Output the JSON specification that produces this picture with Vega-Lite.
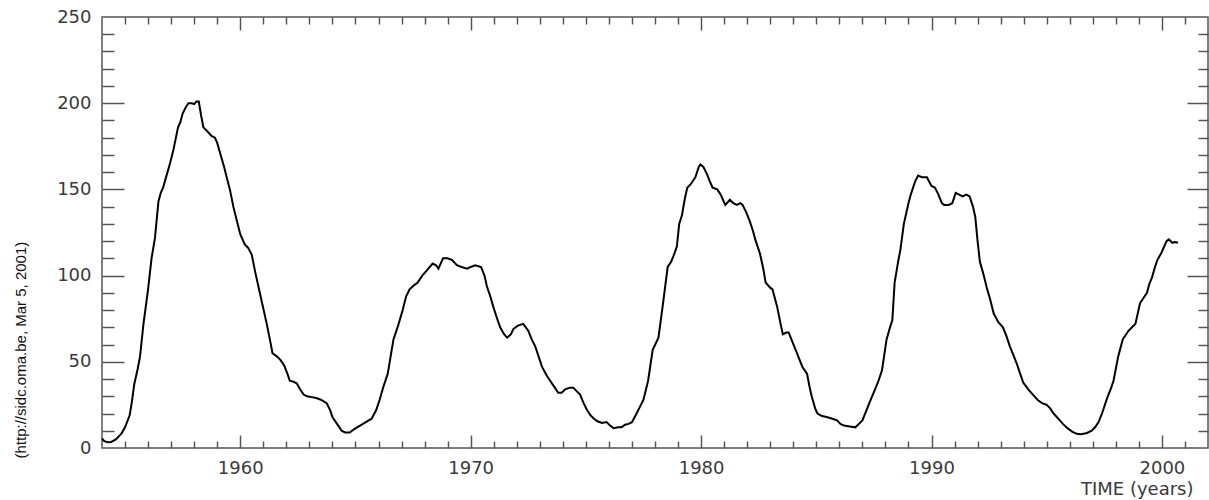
{
  "$schema": "https://vega.github.io/schema/vega-lite/v6.json",
  "autosize": {"type": "none"},
  "padding": {"left": 102, "top": 17, "right": 1, "bottom": 52},
  "width": 1106,
  "height": 431,
  "background": "white",
  "config": {
    "view": {"stroke": "#555555", "strokeWidth": 1.5},
    "axis": {"grid": false, "domain": false, "tickColor": "#555555", "tickWidth": 1.5, "labelFont": "DejaVu Sans", "labelFontSize": 18, "labelColor": "#3a3a3a", "titleFont": "DejaVu Sans", "titleFontWeight": "normal"}
  },
  "data": {
    "values": [
      {"year": 1954.0, "ssn": 5.5}, {"year": 1954.1, "ssn": 4}, {"year": 1954.25, "ssn": 3.4}, {"year": 1954.4, "ssn": 3.5}, {"year": 1954.6, "ssn": 5}, {"year": 1954.85, "ssn": 8.5},
      {"year": 1955.0, "ssn": 12}, {"year": 1955.2, "ssn": 19}, {"year": 1955.3, "ssn": 27}, {"year": 1955.4, "ssn": 37}, {"year": 1955.55, "ssn": 46}, {"year": 1955.65, "ssn": 53}, {"year": 1955.8, "ssn": 72}, {"year": 1955.9, "ssn": 82},
      {"year": 1956.0, "ssn": 92}, {"year": 1956.15, "ssn": 110}, {"year": 1956.3, "ssn": 122}, {"year": 1956.45, "ssn": 143}, {"year": 1956.55, "ssn": 148}, {"year": 1956.65, "ssn": 151}, {"year": 1956.8, "ssn": 158}, {"year": 1956.95, "ssn": 165},
      {"year": 1957.1, "ssn": 173}, {"year": 1957.3, "ssn": 186}, {"year": 1957.4, "ssn": 189}, {"year": 1957.5, "ssn": 194}, {"year": 1957.65, "ssn": 198}, {"year": 1957.75, "ssn": 200}, {"year": 1957.9, "ssn": 200},
      {"year": 1958.0, "ssn": 199.5}, {"year": 1958.1, "ssn": 201}, {"year": 1958.2, "ssn": 201}, {"year": 1958.3, "ssn": 193}, {"year": 1958.4, "ssn": 186}, {"year": 1958.55, "ssn": 184}, {"year": 1958.75, "ssn": 181}, {"year": 1958.9, "ssn": 180},
      {"year": 1959.0, "ssn": 177}, {"year": 1959.15, "ssn": 170}, {"year": 1959.3, "ssn": 163}, {"year": 1959.45, "ssn": 155}, {"year": 1959.55, "ssn": 150}, {"year": 1959.7, "ssn": 140}, {"year": 1959.85, "ssn": 132},
      {"year": 1960.0, "ssn": 124}, {"year": 1960.2, "ssn": 118}, {"year": 1960.35, "ssn": 116}, {"year": 1960.5, "ssn": 112}, {"year": 1960.65, "ssn": 102}, {"year": 1960.8, "ssn": 93}, {"year": 1960.95, "ssn": 84},
      {"year": 1961.15, "ssn": 72}, {"year": 1961.3, "ssn": 62}, {"year": 1961.4, "ssn": 55}, {"year": 1961.6, "ssn": 53}, {"year": 1961.75, "ssn": 51}, {"year": 1961.9, "ssn": 48},
      {"year": 1962.05, "ssn": 43}, {"year": 1962.15, "ssn": 39}, {"year": 1962.3, "ssn": 38.5}, {"year": 1962.45, "ssn": 37.5}, {"year": 1962.6, "ssn": 34}, {"year": 1962.75, "ssn": 31}, {"year": 1962.9, "ssn": 30},
      {"year": 1963.1, "ssn": 29.5}, {"year": 1963.3, "ssn": 29}, {"year": 1963.5, "ssn": 28}, {"year": 1963.75, "ssn": 26}, {"year": 1963.9, "ssn": 22},
      {"year": 1964.0, "ssn": 18}, {"year": 1964.2, "ssn": 14}, {"year": 1964.4, "ssn": 10}, {"year": 1964.55, "ssn": 9}, {"year": 1964.75, "ssn": 9}, {"year": 1964.95, "ssn": 11},
      {"year": 1965.2, "ssn": 13}, {"year": 1965.45, "ssn": 15}, {"year": 1965.7, "ssn": 17}, {"year": 1965.9, "ssn": 22},
      {"year": 1966.05, "ssn": 28}, {"year": 1966.2, "ssn": 35}, {"year": 1966.4, "ssn": 43}, {"year": 1966.55, "ssn": 55}, {"year": 1966.65, "ssn": 63}, {"year": 1966.85, "ssn": 71},
      {"year": 1967.05, "ssn": 80}, {"year": 1967.2, "ssn": 88}, {"year": 1967.35, "ssn": 92}, {"year": 1967.5, "ssn": 94}, {"year": 1967.7, "ssn": 96}, {"year": 1967.9, "ssn": 100},
      {"year": 1968.1, "ssn": 103}, {"year": 1968.35, "ssn": 107}, {"year": 1968.5, "ssn": 106}, {"year": 1968.6, "ssn": 104}, {"year": 1968.8, "ssn": 110},
      {"year": 1969.0, "ssn": 110}, {"year": 1969.2, "ssn": 109}, {"year": 1969.4, "ssn": 106}, {"year": 1969.6, "ssn": 105}, {"year": 1969.85, "ssn": 104},
      {"year": 1970.0, "ssn": 105}, {"year": 1970.2, "ssn": 106}, {"year": 1970.45, "ssn": 105}, {"year": 1970.6, "ssn": 100}, {"year": 1970.7, "ssn": 94}, {"year": 1970.85, "ssn": 88}, {"year": 1970.98, "ssn": 82},
      {"year": 1971.15, "ssn": 75}, {"year": 1971.28, "ssn": 70}, {"year": 1971.45, "ssn": 66}, {"year": 1971.58, "ssn": 64}, {"year": 1971.75, "ssn": 66}, {"year": 1971.85, "ssn": 69},
      {"year": 1972.05, "ssn": 71}, {"year": 1972.28, "ssn": 72}, {"year": 1972.5, "ssn": 68}, {"year": 1972.65, "ssn": 63}, {"year": 1972.8, "ssn": 59}, {"year": 1972.95, "ssn": 53},
      {"year": 1973.1, "ssn": 47}, {"year": 1973.3, "ssn": 42}, {"year": 1973.45, "ssn": 39}, {"year": 1973.65, "ssn": 35}, {"year": 1973.8, "ssn": 32}, {"year": 1973.95, "ssn": 32},
      {"year": 1974.1, "ssn": 34}, {"year": 1974.3, "ssn": 35}, {"year": 1974.45, "ssn": 35}, {"year": 1974.6, "ssn": 33}, {"year": 1974.75, "ssn": 31}, {"year": 1974.9, "ssn": 26},
      {"year": 1975.05, "ssn": 22}, {"year": 1975.2, "ssn": 19}, {"year": 1975.35, "ssn": 17}, {"year": 1975.5, "ssn": 15.5}, {"year": 1975.7, "ssn": 14.5}, {"year": 1975.9, "ssn": 15},
      {"year": 1976.05, "ssn": 13}, {"year": 1976.2, "ssn": 11.5}, {"year": 1976.4, "ssn": 12}, {"year": 1976.55, "ssn": 12}, {"year": 1976.7, "ssn": 13.5}, {"year": 1976.85, "ssn": 14},
      {"year": 1977.0, "ssn": 15}, {"year": 1977.2, "ssn": 20}, {"year": 1977.35, "ssn": 24}, {"year": 1977.5, "ssn": 28}, {"year": 1977.7, "ssn": 39}, {"year": 1977.8, "ssn": 48}, {"year": 1977.9, "ssn": 57},
      {"year": 1978.15, "ssn": 64}, {"year": 1978.35, "ssn": 84}, {"year": 1978.55, "ssn": 105}, {"year": 1978.7, "ssn": 108}, {"year": 1978.85, "ssn": 113}, {"year": 1978.95, "ssn": 117},
      {"year": 1979.05, "ssn": 130}, {"year": 1979.17, "ssn": 135}, {"year": 1979.3, "ssn": 145}, {"year": 1979.4, "ssn": 151}, {"year": 1979.55, "ssn": 153}, {"year": 1979.75, "ssn": 157}, {"year": 1979.9, "ssn": 163}, {"year": 1979.97, "ssn": 164.5},
      {"year": 1980.1, "ssn": 163}, {"year": 1980.25, "ssn": 159}, {"year": 1980.4, "ssn": 154}, {"year": 1980.5, "ssn": 151}, {"year": 1980.7, "ssn": 150}, {"year": 1980.85, "ssn": 147},
      {"year": 1981.05, "ssn": 141}, {"year": 1981.25, "ssn": 144}, {"year": 1981.4, "ssn": 142}, {"year": 1981.55, "ssn": 141}, {"year": 1981.7, "ssn": 142}, {"year": 1981.8, "ssn": 141}, {"year": 1981.95, "ssn": 137},
      {"year": 1982.1, "ssn": 132}, {"year": 1982.25, "ssn": 126}, {"year": 1982.35, "ssn": 121}, {"year": 1982.55, "ssn": 113}, {"year": 1982.7, "ssn": 104}, {"year": 1982.8, "ssn": 96},
      {"year": 1983.0, "ssn": 93}, {"year": 1983.1, "ssn": 92}, {"year": 1983.3, "ssn": 82}, {"year": 1983.45, "ssn": 72}, {"year": 1983.55, "ssn": 66}, {"year": 1983.7, "ssn": 67}, {"year": 1983.8, "ssn": 67}, {"year": 1983.95, "ssn": 62},
      {"year": 1984.1, "ssn": 57}, {"year": 1984.25, "ssn": 52}, {"year": 1984.4, "ssn": 47}, {"year": 1984.6, "ssn": 43}, {"year": 1984.7, "ssn": 36}, {"year": 1984.8, "ssn": 30}, {"year": 1984.95, "ssn": 23},
      {"year": 1985.05, "ssn": 20}, {"year": 1985.25, "ssn": 18.5}, {"year": 1985.45, "ssn": 18}, {"year": 1985.7, "ssn": 17}, {"year": 1985.9, "ssn": 16},
      {"year": 1986.05, "ssn": 14}, {"year": 1986.2, "ssn": 13}, {"year": 1986.45, "ssn": 12.5}, {"year": 1986.7, "ssn": 12}, {"year": 1986.85, "ssn": 14},
      {"year": 1987.0, "ssn": 16}, {"year": 1987.15, "ssn": 21}, {"year": 1987.3, "ssn": 26}, {"year": 1987.55, "ssn": 34}, {"year": 1987.7, "ssn": 39}, {"year": 1987.85, "ssn": 45},
      {"year": 1988.05, "ssn": 63}, {"year": 1988.2, "ssn": 70}, {"year": 1988.3, "ssn": 74}, {"year": 1988.4, "ssn": 96}, {"year": 1988.55, "ssn": 108}, {"year": 1988.65, "ssn": 115}, {"year": 1988.8, "ssn": 130},
      {"year": 1989.0, "ssn": 142}, {"year": 1989.1, "ssn": 147}, {"year": 1989.2, "ssn": 151}, {"year": 1989.3, "ssn": 155}, {"year": 1989.42, "ssn": 158}, {"year": 1989.6, "ssn": 157}, {"year": 1989.8, "ssn": 157},
      {"year": 1990.0, "ssn": 152}, {"year": 1990.15, "ssn": 151}, {"year": 1990.3, "ssn": 147}, {"year": 1990.45, "ssn": 142}, {"year": 1990.55, "ssn": 141}, {"year": 1990.75, "ssn": 141}, {"year": 1990.9, "ssn": 142},
      {"year": 1991.05, "ssn": 148}, {"year": 1991.2, "ssn": 147}, {"year": 1991.35, "ssn": 146}, {"year": 1991.5, "ssn": 147}, {"year": 1991.65, "ssn": 146}, {"year": 1991.8, "ssn": 140}, {"year": 1991.9, "ssn": 134},
      {"year": 1992.0, "ssn": 120}, {"year": 1992.1, "ssn": 108}, {"year": 1992.25, "ssn": 101}, {"year": 1992.4, "ssn": 93}, {"year": 1992.55, "ssn": 86}, {"year": 1992.7, "ssn": 78}, {"year": 1992.9, "ssn": 73},
      {"year": 1993.1, "ssn": 70}, {"year": 1993.25, "ssn": 65}, {"year": 1993.4, "ssn": 59}, {"year": 1993.55, "ssn": 54}, {"year": 1993.7, "ssn": 49}, {"year": 1993.85, "ssn": 43}, {"year": 1993.98, "ssn": 38},
      {"year": 1994.2, "ssn": 34}, {"year": 1994.4, "ssn": 31}, {"year": 1994.6, "ssn": 28}, {"year": 1994.8, "ssn": 26},
      {"year": 1995.0, "ssn": 25}, {"year": 1995.15, "ssn": 23}, {"year": 1995.3, "ssn": 20}, {"year": 1995.5, "ssn": 17}, {"year": 1995.7, "ssn": 14}, {"year": 1995.9, "ssn": 11.5},
      {"year": 1996.1, "ssn": 9.5}, {"year": 1996.3, "ssn": 8.2}, {"year": 1996.5, "ssn": 8}, {"year": 1996.75, "ssn": 8.7}, {"year": 1996.95, "ssn": 10},
      {"year": 1997.1, "ssn": 12}, {"year": 1997.25, "ssn": 15}, {"year": 1997.4, "ssn": 20}, {"year": 1997.55, "ssn": 26}, {"year": 1997.65, "ssn": 30}, {"year": 1997.8, "ssn": 35}, {"year": 1997.9, "ssn": 39},
      {"year": 1998.0, "ssn": 46}, {"year": 1998.1, "ssn": 53}, {"year": 1998.3, "ssn": 63}, {"year": 1998.45, "ssn": 66}, {"year": 1998.55, "ssn": 68}, {"year": 1998.7, "ssn": 70}, {"year": 1998.85, "ssn": 72},
      {"year": 1999.05, "ssn": 84}, {"year": 1999.2, "ssn": 87}, {"year": 1999.35, "ssn": 90}, {"year": 1999.45, "ssn": 95}, {"year": 1999.57, "ssn": 99}, {"year": 1999.7, "ssn": 105}, {"year": 1999.8, "ssn": 109}, {"year": 1999.97, "ssn": 113},
      {"year": 2000.1, "ssn": 117}, {"year": 2000.2, "ssn": 120}, {"year": 2000.3, "ssn": 121}, {"year": 2000.45, "ssn": 119}, {"year": 2000.55, "ssn": 119.5}, {"year": 2000.7, "ssn": 119}
    ]
  },
  "resolve": {"axis": {"x": "independent", "y": "independent"}},
  "layer": [
    {
      "mark": {"type": "line", "color": "black", "strokeWidth": 2},
      "encoding": {
        "x": {"field": "year", "type": "quantitative", "scale": {"domain": [1954, 2002], "nice": false, "zero": false},
          "axis": {"orient": "bottom", "values": [1960, 1970, 1980, 1990, 2000], "format": "d", "ticks": false, "labelPadding": 11,
            "title": "TIME (years)", "titleFontSize": 18, "titleColor": "#3a3a3a", "titleAlign": "right", "titleAnchor": "end", "titleBaseline": "middle", "titleX": 1091, "titleY": 41}},
        "y": {"field": "ssn", "type": "quantitative", "scale": {"domain": [0, 250], "nice": false},
          "axis": {"orient": "left", "values": [0, 50, 100, 150, 200, 250], "format": "d", "ticks": false, "labelPadding": 11,
            "title": "(http://sidc.oma.be, Mar  5, 2001)", "titleFont": "Liberation Sans", "titleFontSize": 15, "titleColor": "#111111", "titleAngle": 270, "titleAlign": "left", "titleBaseline": "middle", "titleX": -82, "titleY": 441}}
      }
    },
    {
      "mark": {"type": "line", "strokeOpacity": 0},
      "encoding": {
        "x": {"field": "year", "type": "quantitative", "axis": {"orient": "bottom", "values": [1960, 1970, 1980, 1990, 2000], "labels": false, "title": null, "tickSize": -13}},
        "y": {"field": "ssn", "type": "quantitative", "axis": {"orient": "left", "values": [50, 100, 150, 200], "labels": false, "title": null, "tickSize": -22}}
      }
    },
    {
      "mark": {"type": "line", "strokeOpacity": 0},
      "encoding": {
        "x": {"field": "year", "type": "quantitative", "axis": {"orient": "bottom", "values": [1955, 1956, 1957, 1958, 1959, 1961, 1962, 1963, 1964, 1965, 1966, 1967, 1968, 1969, 1971, 1972, 1973, 1974, 1975, 1976, 1977, 1978, 1979, 1981, 1982, 1983, 1984, 1985, 1986, 1987, 1988, 1989, 1991, 1992, 1993, 1994, 1995, 1996, 1997, 1998, 1999, 2001], "labels": false, "title": null, "tickSize": -7}},
        "y": {"field": "ssn", "type": "quantitative", "axis": {"orient": "left", "values": [10, 20, 30, 40, 60, 70, 80, 90, 110, 120, 130, 140, 160, 170, 180, 190, 210, 220, 230, 240], "labels": false, "title": null, "tickSize": -12}}
      }
    },
    {
      "mark": {"type": "line", "strokeOpacity": 0},
      "encoding": {
        "x": {"field": "year", "type": "quantitative", "axis": {"orient": "top", "values": [1960, 1970, 1980, 1990, 2000], "labels": false, "title": null, "tickSize": -13}},
        "y": {"field": "ssn", "type": "quantitative", "axis": {"orient": "right", "values": [50, 100, 150, 200], "labels": false, "title": null, "tickSize": -21}}
      }
    },
    {
      "mark": {"type": "line", "strokeOpacity": 0},
      "encoding": {
        "x": {"field": "year", "type": "quantitative", "axis": {"orient": "top", "values": [1955, 1956, 1957, 1958, 1959, 1961, 1962, 1963, 1964, 1965, 1966, 1967, 1968, 1969, 1971, 1972, 1973, 1974, 1975, 1976, 1977, 1978, 1979, 1981, 1982, 1983, 1984, 1985, 1986, 1987, 1988, 1989, 1991, 1992, 1993, 1994, 1995, 1996, 1997, 1998, 1999, 2001], "labels": false, "title": null, "tickSize": -7}},
        "y": {"field": "ssn", "type": "quantitative", "axis": {"orient": "right", "values": [10, 20, 30, 40, 60, 70, 80, 90, 110, 120, 130, 140, 160, 170, 180, 190, 210, 220, 230, 240], "labels": false, "title": null, "tickSize": -10}}
      }
    }
  ]
}
